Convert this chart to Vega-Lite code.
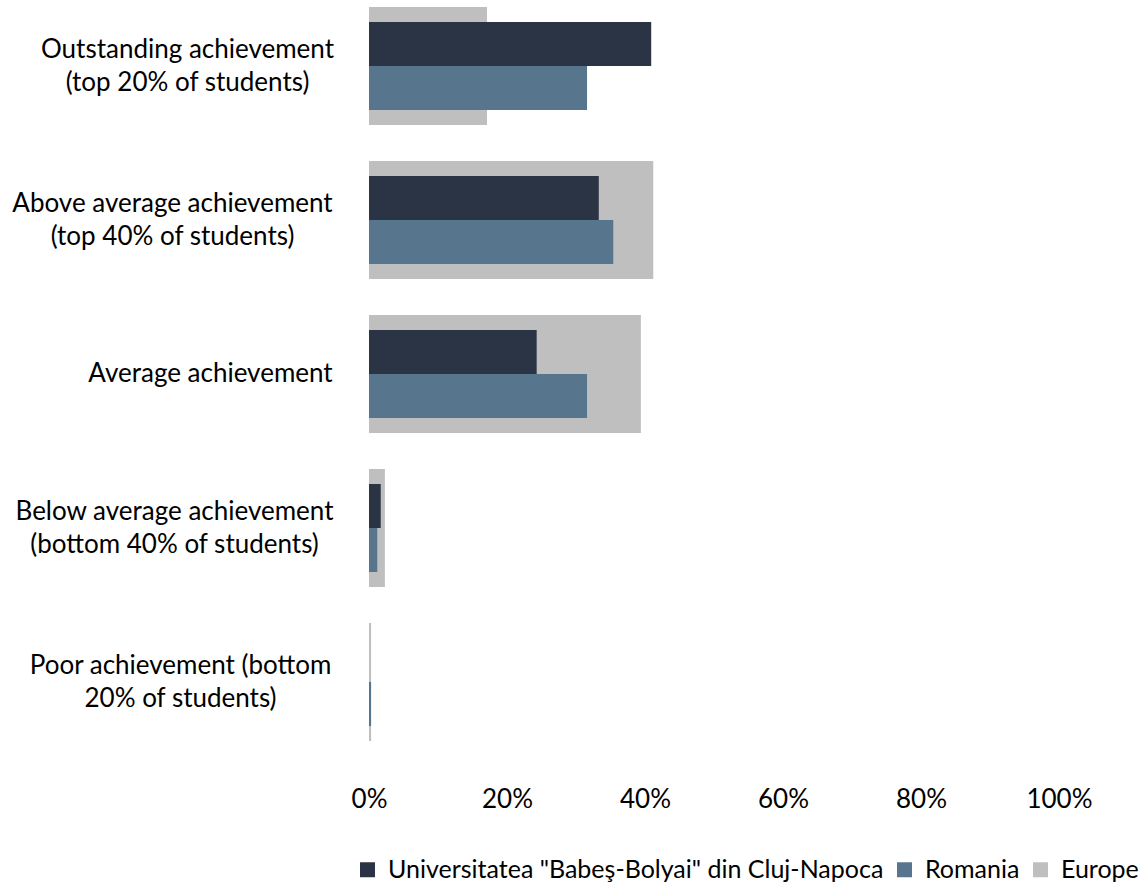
{
  "$schema": "https://vega.github.io/schema/vega-lite/v6.json",
  "width": 690,
  "height": 748,
  "autosize": "none",
  "padding": {"left": 369, "top": 0, "right": 86, "bottom": 138},
  "background": "white",
  "config": {
    "view": {"stroke": null},
    "font": "Lato",
    "axis": {"labelFont": "Lato", "labelColor": "#000000", "labelFontSize": 26}
  },
  "data": {
    "values": [
      {"category": "Outstanding achievement|(top 20% of students)", "series": "Universitatea \"Babeş-Bolyai\" din Cluj-Napoca", "value": 0.409},
      {"category": "Outstanding achievement|(top 20% of students)", "series": "Romania", "value": 0.316},
      {"category": "Outstanding achievement|(top 20% of students)", "series": "Europe", "value": 0.171},
      {"category": "Above average achievement|(top 40% of students)", "series": "Universitatea \"Babeş-Bolyai\" din Cluj-Napoca", "value": 0.333},
      {"category": "Above average achievement|(top 40% of students)", "series": "Romania", "value": 0.354},
      {"category": "Above average achievement|(top 40% of students)", "series": "Europe", "value": 0.412},
      {"category": "Average achievement", "series": "Universitatea \"Babeş-Bolyai\" din Cluj-Napoca", "value": 0.243},
      {"category": "Average achievement", "series": "Romania", "value": 0.316},
      {"category": "Average achievement", "series": "Europe", "value": 0.394},
      {"category": "Below average achievement|(bottom 40% of students)", "series": "Universitatea \"Babeş-Bolyai\" din Cluj-Napoca", "value": 0.017},
      {"category": "Below average achievement|(bottom 40% of students)", "series": "Romania", "value": 0.012},
      {"category": "Below average achievement|(bottom 40% of students)", "series": "Europe", "value": 0.023},
      {"category": "Poor achievement (bottom|20% of students)", "series": "Universitatea \"Babeş-Bolyai\" din Cluj-Napoca", "value": 0.0},
      {"category": "Poor achievement (bottom|20% of students)", "series": "Romania", "value": 0.003},
      {"category": "Poor achievement (bottom|20% of students)", "series": "Europe", "value": 0.003}
    ]
  },
  "encoding": {
    "y": {
      "field": "category",
      "type": "nominal",
      "sort": null,
      "title": null,
      "scale": {"paddingInner": 0.234, "paddingOuter": 0.0455},
      "axis": {
        "domain": false,
        "ticks": false,
        "grid": false,
        "labelExpr": "split(datum.label, '|')",
        "labelAlign": "center",
        "labelBaseline": "middle",
        "labelLineHeight": 33,
        "labelLimit": 400,
        "labelOffset": {
          "condition": {"test": "indexof(datum.value, '|') >= 0", "value": -16},
          "value": 0
        },
        "labelPadding": {
          "condition": [
            {"test": "indexof(datum.value, 'Outstanding') == 0", "value": 182},
            {"test": "indexof(datum.value, 'Above') == 0", "value": 197},
            {"test": "indexof(datum.value, 'Average') == 0", "value": 159},
            {"test": "indexof(datum.value, 'Below') == 0", "value": 195}
          ],
          "value": 189
        }
      }
    },
    "x": {
      "field": "value",
      "type": "quantitative",
      "title": null,
      "scale": {"domain": [0, 1], "nice": false},
      "axis": {
        "values": [0, 0.2, 0.4, 0.6, 0.8, 1],
        "format": ".0%",
        "domain": false,
        "ticks": false,
        "grid": false,
        "labelPadding": 38,
        "labelFlush": false
      }
    },
    "color": {
      "field": "series",
      "type": "nominal",
      "title": null,
      "scale": {
        "domain": ["Universitatea \"Babeş-Bolyai\" din Cluj-Napoca", "Romania", "Europe"],
        "range": ["#2A3444", "#57768E", "#BFBFBF"]
      },
      "legend": {
        "orient": "none",
        "direction": "horizontal",
        "legendX": -14,
        "legendY": 857,
        "symbolType": "square",
        "symbolSize": 225,
        "symbolStrokeWidth": 0,
        "labelFont": "Lato",
        "labelFontSize": 25,
        "labelColor": "#000000",
        "labelOffset": 8,
        "labelLimit": 600,
        "columnPadding": 8
      }
    }
  },
  "layer": [
    {
      "transform": [{"filter": "datum.series == 'Europe'"}],
      "mark": {"type": "bar"}
    },
    {
      "transform": [{"filter": "datum.series != 'Europe'"}],
      "mark": {"type": "bar"},
      "encoding": {
        "yOffset": {
          "field": "series",
          "type": "nominal",
          "sort": ["Universitatea \"Babeş-Bolyai\" din Cluj-Napoca", "Romania"],
          "scale": {"paddingInner": 0, "paddingOuter": 0.341}
        }
      }
    }
  ]
}
